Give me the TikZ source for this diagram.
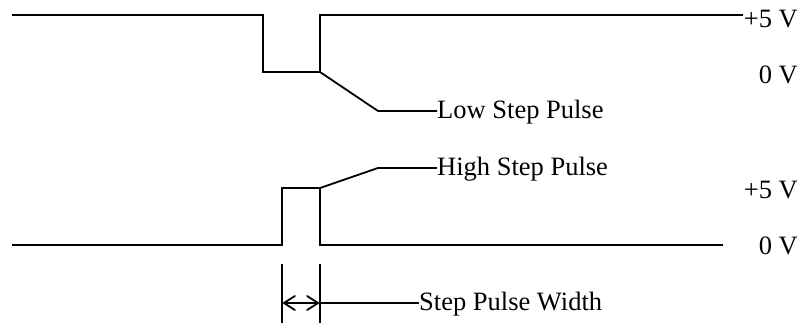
\documentclass[tikz,border=0pt]{standalone}
\usepackage{fontspec}
\setmainfont{Liberation Serif}
\usetikzlibrary{arrows.meta}
\begin{document}
\begin{tikzpicture}[x=1pt,y=-1pt,
  wave/.style={line width=2pt,line join=miter},
  lead/.style={line width=1.8pt},
  lbl/.style={inner sep=0pt,font=\fontsize{26.5}{30}\selectfont},
  volt/.style={lbl,anchor=east},
  tip/.tip={Straight Barb[length=11pt,width=14pt,line width=1.8pt,round]}]
\useasboundingbox (0,0) rectangle (803,323);
% top waveform
\coordinate (t0) at (12,15);
\coordinate (t1) at (263,15);
\coordinate (t2) at (263,72);
\coordinate (t3) at (320,72);
\coordinate (t4) at (320,15);
\coordinate (t5) at (743,15);
\draw[wave] (t0) -- (t1) -- (t2) -- (t3) -- (t4) -- (t5);
\node[volt] (v5a) at (798,19) {+5 V};
\node[volt] (v0a) at (798,75) {0 V};
% low step pulse label
\coordinate (la) at (378,111);
\node[lbl,anchor=west] (low) at (437,112) {Low Step Pulse};
\draw[lead] (t3) -- (la) -- (low.west|-la);
% bottom waveform
\coordinate (b0) at (12,245);
\coordinate (b1) at (282,245);
\coordinate (b2) at (282,188);
\coordinate (b3) at (320,188);
\coordinate (b4) at (320,245);
\coordinate (b5) at (723,245);
\draw[wave] (b0) -- (b1) -- (b2) -- (b3) -- (b4) -- (b5);
\node[volt] (v5b) at (798,190) {+5 V};
\node[volt] (v0b) at (798,246) {0 V};
% high step pulse label
\coordinate (ha) at (378,168);
\node[lbl,anchor=west] (high) at (437,169) {High Step Pulse};
\draw[lead] (b3) -- (ha) -- (high.west|-ha);
% width marker
\coordinate (m1t) at (282,264);
\coordinate (m1b) at (282,323);
\coordinate (m2t) at (320,264);
\coordinate (m2b) at (320,323);
\draw[lead] (m1t) -- (m1b);
\draw[lead] (m2t) -- (m2b);
\coordinate (a1) at (283,303);
\coordinate (a2) at (319,303);
\draw[lead,tip-tip] (a1) -- (a2);
\node[lbl,anchor=west] (spw) at (419,304) {Step Pulse Width};
\draw[lead] (a2) -- (spw.west|-a2);
\end{tikzpicture}
\end{document}
